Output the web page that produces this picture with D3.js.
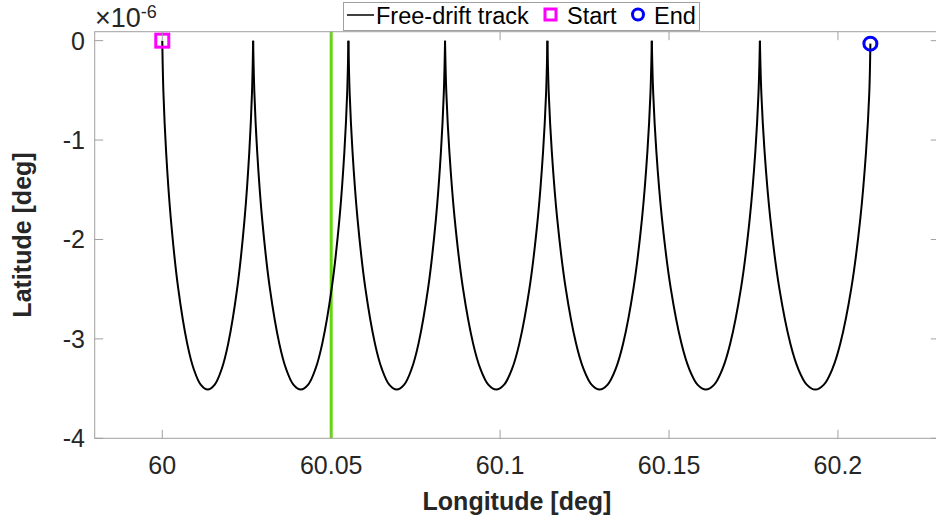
<!DOCTYPE html>
<html>
<head>
<meta charset="utf-8">
<script src="https://cdn.jsdelivr.net/npm/d3@7"></script>
<style>
  body { margin: 0; background: #fff; }
  svg { font-family: "Liberation Sans", Arial, sans-serif; }
</style>
</head>
<body>
<div id="chart"></div>
<script>
// free-drift track, lon in deg, lat in units of 1e-6 deg
const trackLon = [
  60.0000, 60.00035, 60.00114, 60.00253, 60.00471, 60.0074, 60.00928, 60.01137, 60.01345,
  60.01553, 60.01762, 60.0195, 60.02219, 60.02437, 60.02576, 60.02655, 60.0269,
  60.02727, 60.0281, 60.02955, 60.03184, 60.03466, 60.03663, 60.03881, 60.0410,
  60.04319, 60.04537, 60.04734, 60.05016, 60.05245, 60.0539, 60.05473, 60.0551,
  60.05547, 60.05632, 60.05779, 60.06011, 60.06297, 60.06497, 60.06718, 60.0694,
  60.07162, 60.07383, 60.07583, 60.07869, 60.08101, 60.08248, 60.08333, 60.0837,
  60.08409, 60.08499, 60.08655, 60.089, 60.09203, 60.09415, 60.0965, 60.09885,
  60.1012, 60.10355, 60.10567, 60.1087, 60.11115, 60.11271, 60.11361, 60.1140,
  60.1144, 60.11531, 60.1169, 60.11941, 60.1225, 60.12466, 60.12706, 60.12945,
  60.13184, 60.13424, 60.1364, 60.13949, 60.142, 60.14359, 60.1445, 60.1449,
  60.14532, 60.14626, 60.14791, 60.1505, 60.1537, 60.15594, 60.15842, 60.1609,
  60.16338, 60.16586, 60.1681, 60.1713, 60.17389, 60.17554, 60.17648, 60.1769,
  60.17733, 60.17829, 60.17998, 60.18264, 60.18592, 60.18822, 60.19076, 60.1933,
  60.19584, 60.19838, 60.20068, 60.20396, 60.20662, 60.20831, 60.20927, 60.2096
];
const trackLat = [
  0, -0.53, -1.12, -1.79, -2.49, -3.05, -3.30, -3.46, -3.51,
  -3.46, -3.30, -3.05, -2.49, -1.79, -1.12, -0.53, 0,
  -0.53, -1.12, -1.79, -2.49, -3.05, -3.30, -3.46, -3.51,
  -3.46, -3.30, -3.05, -2.49, -1.79, -1.12, -0.53, 0,
  -0.53, -1.12, -1.79, -2.49, -3.05, -3.30, -3.46, -3.51,
  -3.46, -3.30, -3.05, -2.49, -1.79, -1.12, -0.53, 0,
  -0.53, -1.12, -1.79, -2.49, -3.05, -3.30, -3.46, -3.51,
  -3.46, -3.30, -3.05, -2.49, -1.79, -1.12, -0.53, 0,
  -0.53, -1.12, -1.79, -2.49, -3.05, -3.30, -3.46, -3.51,
  -3.46, -3.30, -3.05, -2.49, -1.79, -1.12, -0.53, 0,
  -0.53, -1.12, -1.79, -2.49, -3.05, -3.30, -3.46, -3.51,
  -3.46, -3.30, -3.05, -2.49, -1.79, -1.12, -0.53, 0,
  -0.53, -1.12, -1.79, -2.49, -3.05, -3.30, -3.46, -3.51,
  -3.46, -3.30, -3.05, -2.49, -1.79, -1.12, -0.53, -0.03
];
const refLon = 60.05;
const xTicks = [60, 60.05, 60.1, 60.15, 60.2];
const xTickLabels = ["60", "60.05", "60.1", "60.15", "60.2"];
const yTicks = [-4, -3, -2, -1, 0];
const legendLabels = ["Free-drift track", "Start", "End"];

const width = 936, height = 527;
const m = { left: 94.7, right: 939.3, top: 31.7, bottom: 438.3 };
const axisCol = "#a0a0a0";
const textCol = "#262626";

const x = d3.scaleLinear().domain([59.98, 60.23]).range([m.left, m.right]);
const y = d3.scaleLinear().domain([-4, 0.09]).range([m.bottom, m.top]);

const svg = d3.select("#chart").append("svg")
  .attr("width", width).attr("height", height);

const plot = svg.append("g");

// green reference line
plot.append("line")
  .attr("x1", x(refLon)).attr("x2", x(refLon))
  .attr("y1", y(-4)).attr("y2", y(0.09))
  .attr("stroke", "#62d60a").attr("stroke-width", 3);

// split the track into arches at the cusps so the cusps stay sharp
const pts = trackLon.map((d, i) => [d, trackLat[i]]);
const arches = [];
let cur = [];
pts.forEach((p, i) => {
  cur.push(p);
  if (p[1] === 0 && cur.length > 1) { arches.push(cur); cur = [p]; }
});
if (cur.length > 1) arches.push(cur);

const line = d3.line()
  .x(d => x(d[0])).y(d => y(d[1]))
  .curve(d3.curveCatmullRom.alpha(0.5));

plot.selectAll("path.arch")
  .data(arches)
  .join("path")
  .attr("class", "arch")
  .attr("d", line)
  .attr("fill", "none")
  .attr("stroke", "#000")
  .attr("stroke-width", 2);

// start / end markers
const first = pts[0], last = pts[pts.length - 1];
plot.append("rect")
  .attr("x", x(first[0]) - 6.5).attr("y", y(first[1]) - 6.5)
  .attr("width", 13).attr("height", 13)
  .attr("fill", "none").attr("stroke", "#ff00ff").attr("stroke-width", 3);
plot.append("circle")
  .attr("cx", x(last[0])).attr("cy", y(last[1])).attr("r", 6.5)
  .attr("fill", "none").attr("stroke", "#0000ff").attr("stroke-width", 3);

// axes box
const ax = svg.append("g");
ax.append("rect")
  .attr("x", m.left).attr("y", m.top)
  .attr("width", m.right - m.left).attr("height", m.bottom - m.top)
  .attr("fill", "none").attr("stroke", axisCol).attr("stroke-width", 1);

const tl = 8.5;
xTicks.forEach((t, i) => {
  ax.append("line").attr("x1", x(t)).attr("x2", x(t))
    .attr("y1", m.bottom).attr("y2", m.bottom - tl).attr("stroke", axisCol);
  ax.append("line").attr("x1", x(t)).attr("x2", x(t))
    .attr("y1", m.top).attr("y2", m.top + tl).attr("stroke", axisCol);
  ax.append("text").attr("x", x(t)).attr("y", 474)
    .attr("text-anchor", "middle").attr("font-size", 25).attr("fill", textCol)
    .text(xTickLabels[i]);
});
yTicks.forEach(t => {
  ax.append("line").attr("x1", m.left).attr("x2", m.left + tl)
    .attr("y1", y(t)).attr("y2", y(t)).attr("stroke", axisCol);
  ax.append("line").attr("x1", m.right).attr("x2", m.right - tl)
    .attr("y1", y(t)).attr("y2", y(t)).attr("stroke", axisCol);
  ax.append("text").attr("x", 85).attr("y", y(t) + 9)
    .attr("text-anchor", "end").attr("font-size", 25).attr("fill", textCol)
    .text(t);
});

// exponent label
const ex = ax.append("text").attr("x", 95).attr("y", 27)
  .attr("font-size", 27).attr("fill", textCol);
ex.append("tspan").text("\u00d710");
ex.append("tspan").attr("dy", -9).attr("font-size", 18).text("-6");

// axis titles
svg.append("text")
  .attr("x", (m.left + m.right) / 2).attr("y", 510)
  .attr("text-anchor", "middle").attr("font-size", 25).attr("font-weight", "bold")
  .attr("fill", textCol).text("Longitude [deg]");
svg.append("text")
  .attr("transform", `translate(31,${(m.top + m.bottom) / 2}) rotate(-90)`)
  .attr("text-anchor", "middle").attr("font-size", 25).attr("font-weight", "bold")
  .attr("fill", textCol).text("Latitude [deg]");

// legend
const lg = svg.append("g");
lg.append("rect").attr("x", 343.5).attr("y", 2.5).attr("width", 356).attr("height", 28)
  .attr("fill", "#fff").attr("stroke", axisCol);
lg.append("line").attr("x1", 347).attr("x2", 374).attr("y1", 15).attr("y2", 15)
  .attr("stroke", "#000").attr("stroke-width", 1.5);
lg.append("text").attr("x", 376).attr("y", 24).attr("font-size", 23.5).attr("fill", "#000")
  .text(legendLabels[0]);
lg.append("rect").attr("x", 545).attr("y", 9).attr("width", 11).attr("height", 11)
  .attr("fill", "none").attr("stroke", "#ff00ff").attr("stroke-width", 3);
lg.append("text").attr("x", 567).attr("y", 24).attr("font-size", 23.5).attr("fill", "#000")
  .text(legendLabels[1]);
lg.append("circle").attr("cx", 638).attr("cy", 14.5).attr("r", 5.5)
  .attr("fill", "none").attr("stroke", "#0000ff").attr("stroke-width", 3);
lg.append("text").attr("x", 654).attr("y", 24).attr("font-size", 23.5).attr("fill", "#000")
  .text(legendLabels[2]);
</script>
</body>
</html>
